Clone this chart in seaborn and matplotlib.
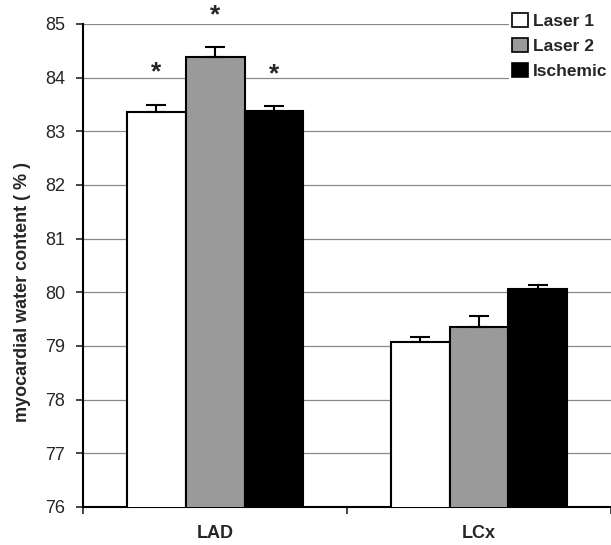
import matplotlib
matplotlib.use("Agg")
import matplotlib.pyplot as plt
import seaborn as sns
import pandas as pd
import numpy as np
from matplotlib.patches import Patch

regions = ["LAD", "LCx"]
groups = ["Laser 1", "Laser 2", "Ischemic"]
laser1 = [83.36, 79.07]
laser2 = [84.38, 79.35]
ischemic = [83.37, 80.06]
err_laser1 = [0.13, 0.10]
err_laser2 = [0.19, 0.20]
err_ischemic = [0.10, 0.07]
stars = [["*", ""], ["*", ""], ["*", ""]]
ylabel = "myocardial water content ( % )"
yticks = [76, 77, 78, 79, 80, 81, 82, 83, 84, 85]

colors = ["#ffffff", "#9a9a9a", "#000000"]

rows = []
for g, vals, errs in zip(groups, [laser1, laser2, ischemic], [err_laser1, err_laser2, err_ischemic]):
    for r, v, e in zip(regions, vals, errs):
        rows.append({"region": r, "group": g, "value": v, "err": e})
df = pd.DataFrame(rows)

sns.set_style("white")
plt.rcParams["font.family"] = ["Liberation Sans", "DejaVu Sans"]

fig = plt.figure(figsize=(6.11, 5.45), dpi=100)
ax = fig.add_axes([0.136, 0.070, 0.864, 0.886])

sns.barplot(data=df, x="region", y="value", hue="group", order=regions,
            hue_order=groups, palette=colors, edgecolor="black", linewidth=1.5,
            width=0.67, errorbar=None, ax=ax, legend=False, zorder=3)

ax.set_ylim(76, 85)
ax.set_xlim(-0.5, 1.5)
ax.set_yticks(yticks)
ax.set_yticklabels([str(t) for t in yticks], fontsize=13)
ax.yaxis.grid(True, color="#888888", linewidth=0.9, zorder=0)
ax.set_axisbelow(True)

# error bars and stars from bar patches
patches = ax.patches
for gi, g in enumerate(groups):
    sub = df[df.group == g]
    for ri, r in enumerate(regions):
        p = patches[gi * len(regions) + ri]
        xc = p.get_x() + p.get_width() / 2
        v = sub[sub.region == r]["value"].values[0]
        e = sub[sub.region == r]["err"].values[0]
        ax.errorbar([xc], [v], yerr=[[0], [e]], fmt="none", ecolor="black",
                    elinewidth=1.5, capsize=7, capthick=1.5, zorder=4)
        s = stars[gi][ri]
        if s:
            ax.text(xc, v + e + 0.6, s, ha="center", va="center",
                    fontsize=19, fontweight="bold", clip_on=False, zorder=5)

ax.set_xlabel("")
ax.set_ylabel(ylabel, fontsize=13, fontweight="bold")
ax.yaxis.set_label_coords(-0.098, 0.445)
for lab in ax.get_xticklabels():
    lab.set_fontweight("bold")
    lab.set_fontsize(13)

for s in ["top", "right"]:
    ax.spines[s].set_visible(False)
for s in ["left", "bottom"]:
    ax.spines[s].set_color("black")
    ax.spines[s].set_linewidth(1.5)

ax.tick_params(axis="y", which="major", direction="out", length=5, width=1.2,
               left=True, pad=8)
ax.tick_params(axis="x", which="major", length=0, pad=13)
ax.set_xticks([-0.5, 0.5, 1.5], minor=True)
ax.tick_params(axis="x", which="minor", direction="out", length=5, width=1.2,
               bottom=True)

handles = [Patch(facecolor=c, edgecolor="black", linewidth=1.2) for c in colors]
leg = ax.legend(handles, groups, loc="upper right", bbox_to_anchor=(1.0, 1.03),
                frameon=True, framealpha=1, edgecolor="white", fancybox=False,
                prop={"weight": "bold", "size": 12.5}, handlelength=0.9,
                handleheight=0.9, handletextpad=0.3, labelspacing=0.5,
                borderpad=0.2, borderaxespad=0.0)
leg.set_zorder(10)

fig.savefig("out.png", dpi=100, facecolor="white")
